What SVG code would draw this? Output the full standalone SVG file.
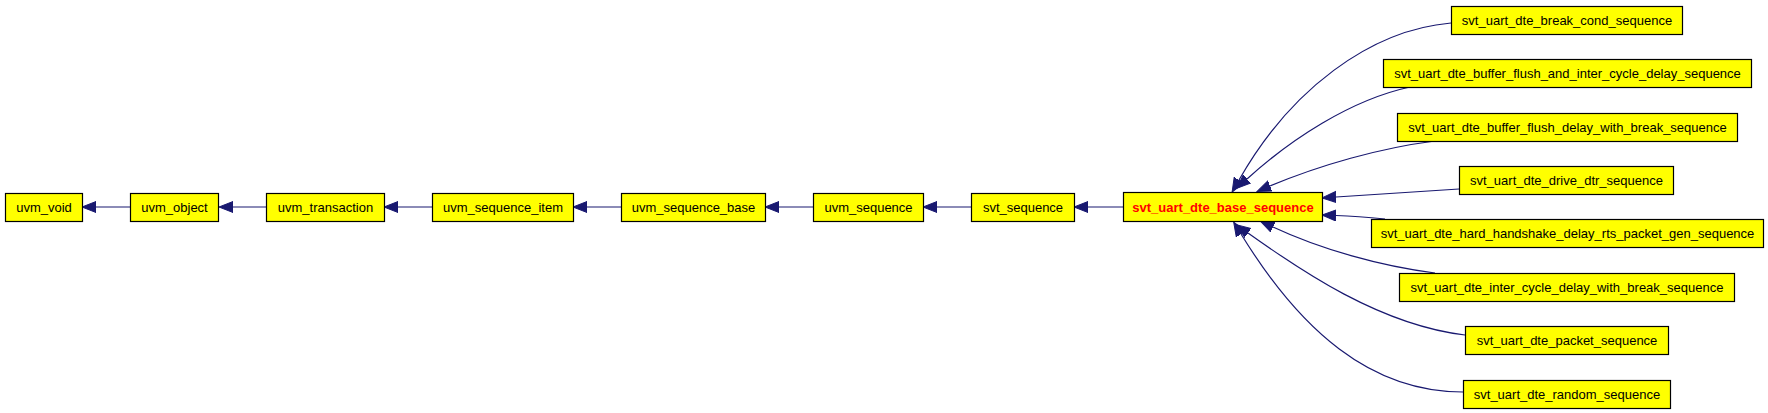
<svg xmlns="http://www.w3.org/2000/svg" width="1768" height="413" viewBox="0 0 1768 413">
<defs>
<style>
.box{fill:#ffff00;stroke:#000000;stroke-width:1.2}
.lbl{font-family:"Liberation Sans",Arial,sans-serif;font-size:13px;fill:#000000;text-anchor:middle}
.cur{font-weight:bold;fill:#ff0000}
.edge{fill:none;stroke:#191970;stroke-width:1.2;marker-end:url(#ah)}
</style>
<marker id="ah" markerUnits="userSpaceOnUse" markerWidth="16" markerHeight="14" refX="0" refY="6" orient="auto" viewBox="0 0 16 14">
<path d="M0,0.5 L14,6 L0,11.5 Z" fill="#191970" stroke="#191970" stroke-width="1"/>
</marker>
</defs>
<rect width="1768" height="413" fill="#ffffff"/>
<g id="connectors">
<path class="edge" d="M130,207 L96,207"/>
<path class="edge" d="M266,207 L233,207"/>
<path class="edge" d="M432,207 L398,207"/>
<path class="edge" d="M621,207 L587,207"/>
<path class="edge" d="M813,207 L779,207"/>
<path class="edge" d="M971,207 L937,207"/>
<path class="edge" d="M1123,207 L1088,207"/>
<path class="edge" d="M1451,23 C1370,30 1290,90 1239,180"/>
<path class="edge" d="M1410,87 C1350,100 1290,140 1247,179"/>
<path class="edge" d="M1435,141 C1380,148 1320,165 1270,186"/>
<path class="edge" d="M1459,189 L1336,197"/>
<path class="edge" d="M1385,219 C1365,217 1350,216 1336,215.5"/>
<path class="edge" d="M1435,273 C1380,266 1320,249 1273,227"/>
<path class="edge" d="M1465,335 C1380,325 1300,270 1248,233"/>
<path class="edge" d="M1463,392 C1370,392 1300,330 1241,234"/>
</g>
<g id="uvm_void"><rect class="box" x="5.5" y="193.5" width="77" height="28"/><text class="lbl" x="44" y="212">uvm_void</text></g>
<g id="uvm_object"><rect class="box" x="130.5" y="193.5" width="88" height="28"/><text class="lbl" x="174.5" y="212">uvm_object</text></g>
<g id="uvm_transaction"><rect class="box" x="266.5" y="193.5" width="118" height="28"/><text class="lbl" x="325.5" y="212">uvm_transaction</text></g>
<g id="uvm_sequence_item"><rect class="box" x="432.5" y="193.5" width="141" height="28"/><text class="lbl" x="503" y="212">uvm_sequence_item</text></g>
<g id="uvm_sequence_base"><rect class="box" x="621.5" y="193.5" width="144" height="28"/><text class="lbl" x="693.5" y="212">uvm_sequence_base</text></g>
<g id="uvm_sequence"><rect class="box" x="813.5" y="193.5" width="110" height="28"/><text class="lbl" x="868.5" y="212">uvm_sequence</text></g>
<g id="svt_sequence"><rect class="box" x="971.5" y="193.5" width="103" height="28"/><text class="lbl" x="1023" y="212">svt_sequence</text></g>
<g id="svt_uart_dte_base_sequence"><rect class="box" x="1123.5" y="192.5" width="199" height="29"/><text class="lbl cur" x="1223" y="211.5">svt_uart_dte_base_sequence</text></g>
<g id="svt_uart_dte_break_cond_sequence"><rect class="box" x="1451.5" y="6.5" width="231" height="28"/><text class="lbl" x="1567" y="25">svt_uart_dte_break_cond_sequence</text></g>
<g id="svt_uart_dte_buffer_flush_and_inter_cycle_delay_sequence"><rect class="box" x="1383.5" y="59.5" width="368" height="28"/><text class="lbl" x="1567.5" y="78">svt_uart_dte_buffer_flush_and_inter_cycle_delay_sequence</text></g>
<g id="svt_uart_dte_buffer_flush_delay_with_break_sequence"><rect class="box" x="1397.5" y="113.5" width="340" height="28"/><text class="lbl" x="1567.5" y="132">svt_uart_dte_buffer_flush_delay_with_break_sequence</text></g>
<g id="svt_uart_dte_drive_dtr_sequence"><rect class="box" x="1459.5" y="166.5" width="214" height="28"/><text class="lbl" x="1566.5" y="185">svt_uart_dte_drive_dtr_sequence</text></g>
<g id="svt_uart_dte_hard_handshake_delay_rts_packet_gen_sequence"><rect class="box" x="1371.5" y="219.5" width="392" height="28"/><text class="lbl" x="1567.5" y="238">svt_uart_dte_hard_handshake_delay_rts_packet_gen_sequence</text></g>
<g id="svt_uart_dte_inter_cycle_delay_with_break_sequence"><rect class="box" x="1399.5" y="273.5" width="335" height="28"/><text class="lbl" x="1567" y="292">svt_uart_dte_inter_cycle_delay_with_break_sequence</text></g>
<g id="svt_uart_dte_packet_sequence"><rect class="box" x="1465.5" y="326.5" width="203" height="28"/><text class="lbl" x="1567" y="345">svt_uart_dte_packet_sequence</text></g>
<g id="svt_uart_dte_random_sequence"><rect class="box" x="1463.5" y="380.5" width="207" height="28"/><text class="lbl" x="1567" y="399">svt_uart_dte_random_sequence</text></g>
</svg>
